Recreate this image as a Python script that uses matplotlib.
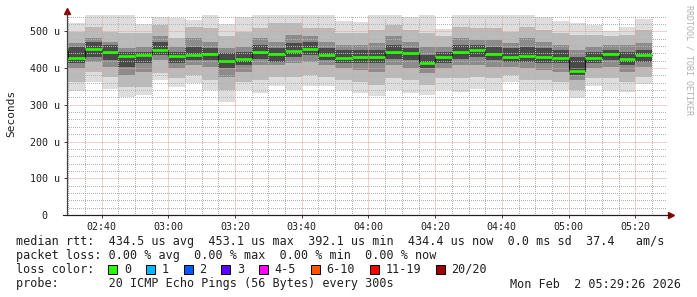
import matplotlib
matplotlib.use("Agg")
import matplotlib.pyplot as plt
import matplotlib.dates as mdates
from matplotlib.ticker import MultipleLocator, FuncFormatter
from matplotlib.patches import Rectangle
from datetime import datetime, timedelta

# ---------------- data (values in microseconds) -------------
bar_start = ["02:25", "02:30", "02:35", "02:40", "02:45", "02:50", "02:55",
             "03:00", "03:05", "03:10", "03:15", "03:20", "03:25", "03:30",
             "03:35", "03:40", "03:45", "03:50", "03:55", "04:00", "04:05",
             "04:10", "04:15", "04:20", "04:25", "04:30", "04:35", "04:40",
             "04:45", "04:50", "04:55", "05:00", "05:05", "05:10", "05:15", "05:20"]

rtt_max = [505, 522, 550, 550, 550, 520, 540, 535, 531, 550, 520, 538, 550, 550, 550, 550,
           550, 529, 525, 550, 550, 538, 550, 505, 550, 550, 550, 550, 550, 538, 529, 522,
           517, 502, 513, 534]
rtt_p90 = [495, 499, 513, 499, 495, 496, 517, 481, 513, 508, 486, 499, 508, 522, 522, 508,
           508, 495, 495, 504, 517, 504, 495, 486, 513, 508, 508, 499, 513, 504, 495, 490,
           490, 486, 490, 504]
rtt_p75 = [478, 467, 481, 472, 454, 458, 486, 458, 481, 472, 454, 458, 481, 472, 490, 486,
           472, 463, 463, 467, 486, 472, 458, 458, 481, 476, 476, 467, 481, 472, 463, 449,
           458, 463, 463, 467]
core_hi = [465, 458, 472, 463, 445, 445, 472, 445, 458, 454, 440, 445, 463, 454, 467, 472,
           454, 449, 449, 449, 463, 454, 435, 445, 463, 463, 458, 454, 458, 454, 449, 431,
           445, 449, 445, 449]
rtt_median = [452, 427, 452, 445, 432, 435, 448, 432, 435, 438, 418, 424, 443, 437, 446, 453.1,
              435, 428, 430, 430, 443, 440, 415, 431, 444, 449, 437, 429, 433, 430, 427, 392.1,
              427, 437, 424, 434.4]
core_lo = [438, 413, 431, 422, 404, 413, 436, 413, 422, 422, 399, 408, 426, 417, 431, 436,
           422, 413, 413, 413, 426, 422, 399, 413, 426, 431, 422, 417, 417, 413, 413, 381,
           413, 422, 408, 417]
rtt_p25 = [420, 399, 417, 404, 381, 390, 422, 399, 408, 404, 376, 390, 408, 408, 413, 417,
           408, 399, 395, 390, 408, 399, 386, 399, 408, 408, 404, 404, 399, 395, 390, 367,
           399, 404, 390, 404]
rtt_p10 = [395, 363, 390, 376, 349, 349, 386, 372, 381, 367, 340, 363, 367, 376, 376, 381,
           376, 367, 363, 354, 372, 367, 354, 372, 372, 376, 372, 381, 367, 367, 363, 340,
           372, 372, 363, 376]
rtt_min = [370, 337, 362, 343, 321, 326, 367, 349, 358, 340, 308, 340, 331, 351, 340, 351,
           351, 340, 333, 324, 340, 333, 328, 340, 335, 343, 337, 363, 337, 340, 340, 319,
           352, 340, 335, 357]

y_ticks = [0, 100, 200, 300, 400, 500]

legend_lines = [
    "median rtt:  434.5 us avg  453.1 us max  392.1 us min  434.4 us now  0.0 ms sd  37.4   am/s",
    "packet loss: 0.00 % avg  0.00 % max  0.00 % min  0.00 % now",
]
loss_labels = ["0", "1", "2", "3", "4-5", "6-10", "11-19", "20/20"]
loss_colors = ["#26ff00", "#00b8ff", "#0059ff", "#5e00ff", "#ff00ff", "#ff5500", "#ff0000", "#a10000"]
probe_text = "probe:       20 ICMP Echo Pings (56 Bytes) every 300s"
date_text = "Mon Feb  2 05:29:26 2026"

# ---------------- figure ----------------
W, H, DPI = 697, 297, 100
MONO = "DejaVu Sans Mono"
fig = plt.figure(figsize=(W / DPI, H / DPI), dpi=DPI, facecolor="white")

ax_left, ax_right, ax_top, ax_bot = 66.5, 666.7, 14.8, 215.0
ax = fig.add_axes([ax_left / W, 1 - ax_bot / H, (ax_right - ax_left) / W, (ax_bot - ax_top) / H])
ax.set_facecolor("white")

day = datetime(2026, 2, 2)
def to_dt(s):
    h, m = s.split(":")
    return day + timedelta(hours=int(h), minutes=int(m))

starts = [mdates.date2num(to_dt(s)) for s in bar_start]
bw = 5.0 / 1440.0

layers = [
    (rtt_min, rtt_max, "#dddddd"),
    (rtt_p10, rtt_p90, "#bababa"),
    (rtt_p25, rtt_p75, "#8c8c8c"),
    (core_lo, core_hi, "#4a4a4a"),
]
for lo, hi, col in layers:
    ax.bar(starts, [h - l for l, h in zip(lo, hi)], bottom=lo, width=bw, align="edge",
           color=col, linewidth=0, antialiased=False, zorder=1)

# median: dark step line plus green loss-colour band
step_x = starts + [starts[-1] + bw]
step_y = rtt_median + [rtt_median[-1]]
ax.step(step_x, step_y, where="post", color="#1a1a1a", lw=0.8, zorder=3)
ax.hlines(rtt_median, starts, [s + bw for s in starts], color=loss_colors[0], lw=1.9, zorder=4)

x0 = mdates.date2num(datetime(2026, 2, 2, 2, 29, 26))
x1 = mdates.date2num(datetime(2026, 2, 2, 5, 29, 26))
ax.set_xlim(x0, x1)
ax.set_ylim(0, 545)

ax.xaxis.set_major_locator(mdates.MinuteLocator(byminute=[0, 20, 40]))
ax.xaxis.set_minor_locator(mdates.MinuteLocator(byminute=range(0, 60, 5)))
ax.xaxis.set_major_formatter(mdates.DateFormatter("%H:%M"))
ax.yaxis.set_minor_locator(MultipleLocator(20))
ax.set_yticks(y_ticks)
ax.yaxis.set_major_formatter(FuncFormatter(lambda v, p: "0  " if v == 0 else f"{int(v)} u"))

ax.set_axisbelow(False)
ax.grid(which="minor", color="#b4b4b4", linestyle=(0, (1, 2)), linewidth=0.72,
        antialiased=False, zorder=2)
ax.grid(which="major", color="#e8a0a0", linestyle=(0, (1, 1)), linewidth=0.72,
        antialiased=True, zorder=2.1)

for s in ["top", "right"]:
    ax.spines[s].set_visible(False)
ax.spines["left"].set_color("#404040")
ax.spines["bottom"].set_color("#202020")
ax.spines["left"].set_linewidth(0.8)
ax.spines["bottom"].set_linewidth(0.8)
ax.spines["left"].set_zorder(5)
ax.spines["bottom"].set_zorder(5)

ax.tick_params(which="major", length=2, width=0.7, color="#404040", direction="out")
ax.tick_params(which="minor", length=0)
ax.tick_params(axis="x", pad=3)
ax.tick_params(axis="y", pad=3)
for lab in ax.get_xticklabels() + ax.get_yticklabels():
    lab.set_fontfamily(MONO)
    lab.set_fontsize(7.2)
    lab.set_color("#202020")

fig.text(11 / W, 1 - 113 / H, "Seconds", rotation=90, ha="center", va="center",
         fontfamily=MONO, fontsize=8, color="#202020")

# arrows at the axis ends
fig.add_artist(plt.Line2D([ax_left / W], [1 - 11 / H], marker="^", markersize=4.5,
                          color="#8c0000", transform=fig.transFigure))
fig.add_artist(plt.Line2D([671 / W], [1 - ax_bot / H], marker=">", markersize=4.5,
                          color="#8c0000", transform=fig.transFigure))
fig.add_artist(plt.Line2D([ax_left / W, ax_left / W], [1 - ax_bot / H, 1 - 12 / H],
                          color="#404040", lw=0.8, transform=fig.transFigure))
fig.add_artist(plt.Line2D([63 / W, 670 / W], [1 - ax_bot / H, 1 - ax_bot / H],
                          color="#202020", lw=0.8, transform=fig.transFigure))

# watermark
fig.text(689 / W, 1 - 60 / H, "RRDTOOL / TOBI OETIKER", rotation=-90, ha="center", va="center",
         fontfamily=MONO, fontsize=6, color="#b0b0b0")

# legend text
CW = 7.1  # character width in px
FS = 8.5
tx = 16
fig.text(tx / W, 1 - 241 / H, legend_lines[0], ha="left", va="center", fontfamily=MONO, fontsize=FS, color="#202020")
fig.text(tx / W, 1 - 256 / H, legend_lines[1], ha="left", va="center", fontfamily=MONO, fontsize=FS, color="#202020")
fig.text(tx / W, 1 - 269.5 / H, "loss color:", ha="left", va="center", fontfamily=MONO, fontsize=FS, color="#202020")
c = 13.0
for lab, col in zip(loss_labels, loss_colors):
    bx = tx + c * CW
    fig.add_artist(Rectangle((bx / W, 1 - 274 / H), 9 / W, 9 / H, transform=fig.transFigure,
                             facecolor=col, edgecolor="#000000", linewidth=0.7))
    fig.text((tx + (c + 2.2) * CW) / W, 1 - 269.5 / H, lab, ha="left", va="center",
             fontfamily=MONO, fontsize=FS, color="#202020")
    c += 2 + len(lab) + 2.3
fig.text(tx / W, 1 - 284 / H, probe_text, ha="left", va="center", fontfamily=MONO, fontsize=FS, color="#202020")
fig.text(681 / W, 1 - 284 / H, date_text, ha="right", va="center", fontfamily=MONO, fontsize=FS, color="#202020")

fig.savefig("out.png", dpi=DPI, facecolor="white")
